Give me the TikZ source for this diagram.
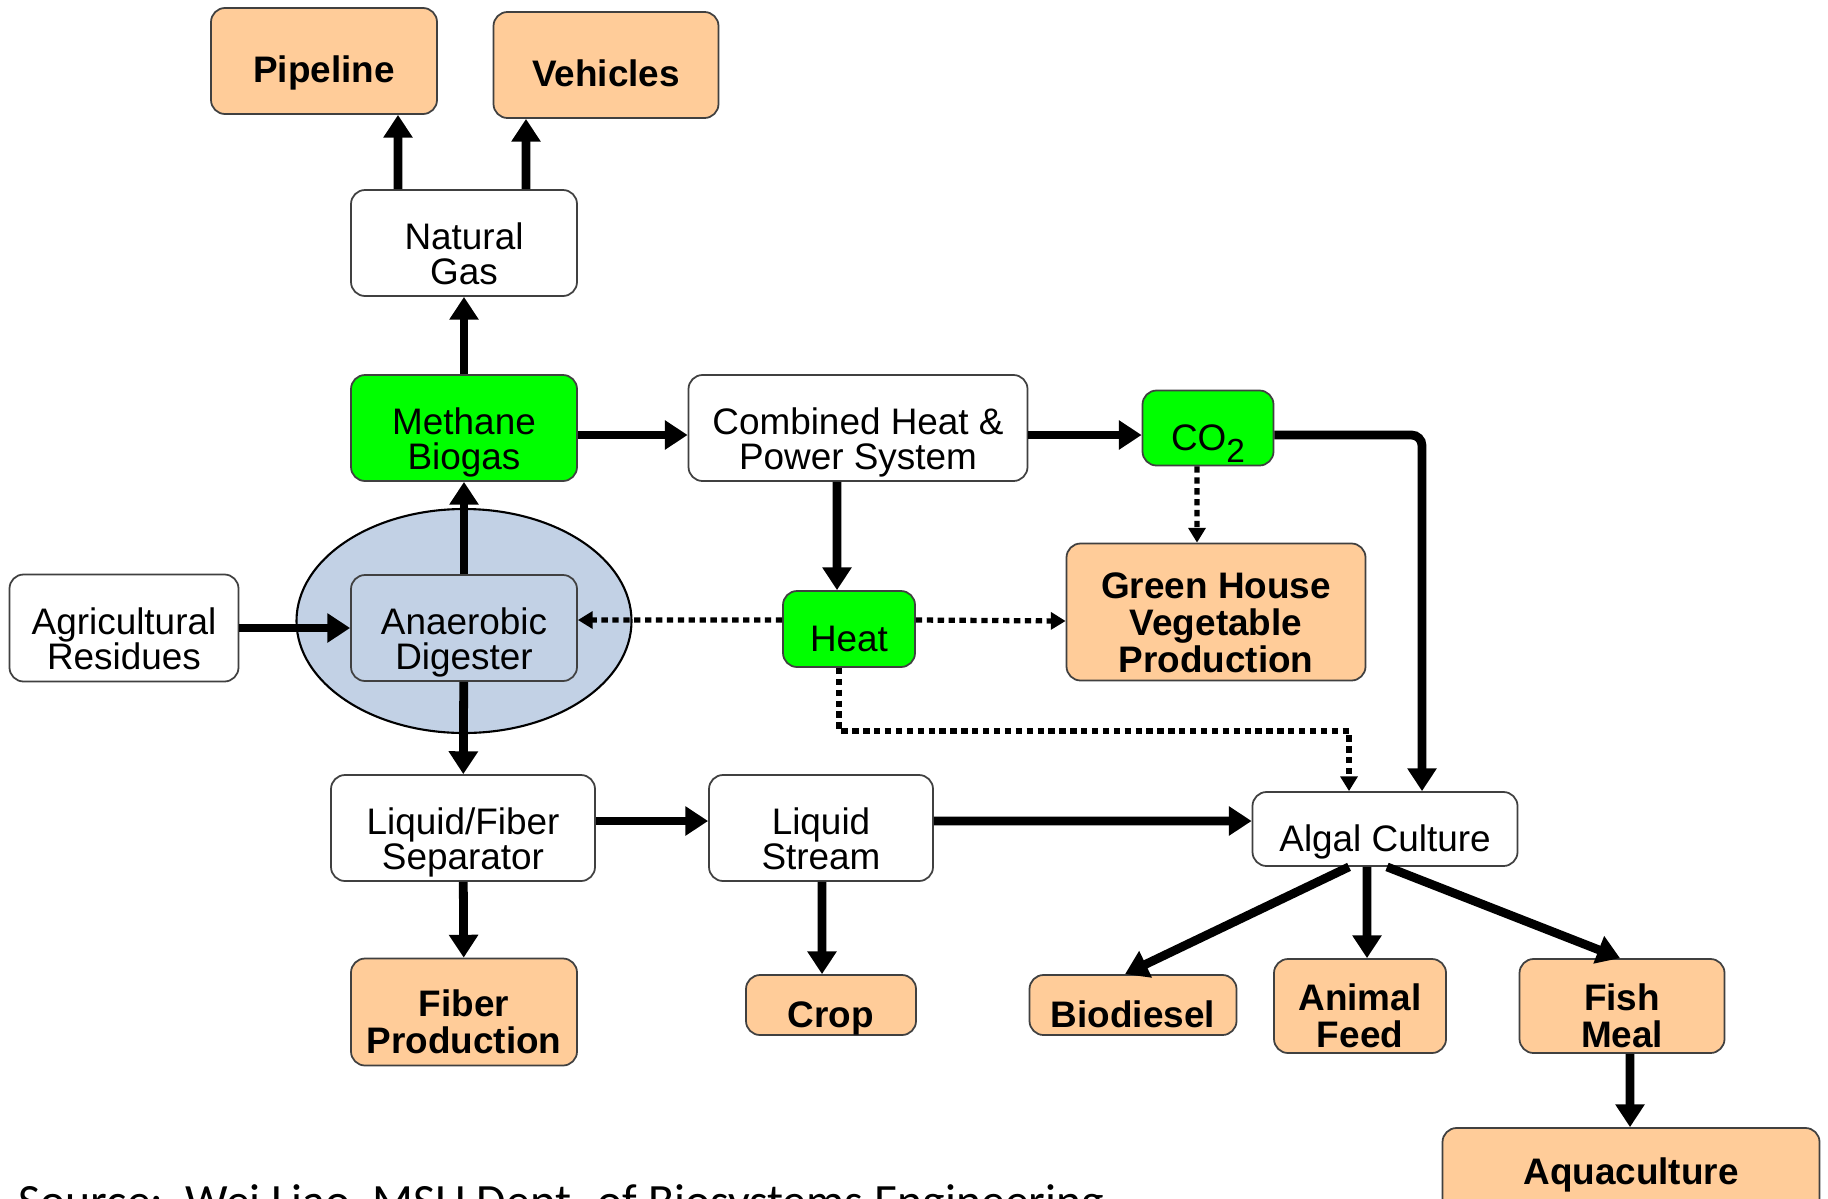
\documentclass[tikz,border=0pt]{standalone}
\usepackage{fontspec}
\setmainfont{Liberation Sans}
\newfontfamily\srcfont{Carlito}
\usetikzlibrary{arrows.meta,shapes.geometric}

\definecolor{peach}{RGB}{255,204,153}
\definecolor{gasgreen}{RGB}{0,255,0}
\definecolor{tankblue}{RGB}{194,209,229}

\tikzset{
  box/.style={draw=black!75,line width=0.5pt,rounded corners=4pt,align=center,
    inner sep=0pt,text height=13pt,text depth=0pt,font=\fontsize{10.5}{10}\selectfont},
  two/.style={text height=23.5pt},
  three/.style={text height=34.5pt},
  prod/.style={box,fill=peach,font=\fontsize{10.5}{10.5}\selectfont\bfseries},
  gas/.style={box,fill=gasgreen},
  flow/.style={line width=2.5pt,-{Triangle[length=6.5pt,width=8pt]}},
  heatflow/.style={line width=1.5pt,dash pattern=on 1.8pt off 1.3pt,
    -{Triangle[length=4.2pt,width=4.8pt]}}
}

\begin{document}
\begin{tikzpicture}
\clip (0,0) rectangle (18.28,-11.98);
\fill[white] (0,0) rectangle (18.28,-11.98);

% digester tank
\draw (4.64,-6.21) node[ellipse,draw,line width=0.6pt,fill=tankblue,minimum width=3.35cm,minimum height=2.24cm](tank) {};

% process boxes
\draw (4.64,-2.43) node[box,two,minimum width=2.26cm,minimum height=1.06cm](ng) {Natural\\Gas};
\draw (4.64,-4.28) node[gas,two,minimum width=2.26cm,minimum height=1.06cm](meth) {Methane\\Biogas};
\draw (8.58,-4.28) node[box,two,minimum width=3.39cm,minimum height=1.06cm](chp) {Combined Heat \&\\Power System};
\draw (12.08,-4.28) node[gas,minimum width=1.31cm,minimum height=0.75cm](co2) {CO\raisebox{-3.4pt}{\fontsize{9.5}{9.5}\selectfont 2}};
\draw (8.49,-6.29) node[gas,minimum width=1.32cm,minimum height=0.76cm](heat) {Heat};
\draw (4.64,-6.28) node[box,two,fill=tankblue,minimum width=2.26cm,minimum height=1.06cm](ad) {Anaerobic\\Digester};
\draw (1.24,-6.28) node[box,two,minimum width=2.29cm,minimum height=1.07cm](agr) {Agricultural\\Residues};
\draw (4.63,-8.28) node[box,two,minimum width=2.64cm,minimum height=1.06cm](lfs) {Liquid/Fiber\\Separator};
\draw (8.21,-8.28) node[box,two,minimum width=2.24cm,minimum height=1.06cm](ls) {Liquid\\Stream};
\draw (13.85,-8.29) node[box,minimum width=2.65cm,minimum height=0.74cm](alg) {Algal Culture};

% products
\draw (3.24,-0.61) node[prod,minimum width=2.26cm,minimum height=1.06cm,text height=12pt](pipe) {Pipeline};
\draw (6.06,-0.65) node[prod,minimum width=2.25cm,minimum height=1.06cm,text height=12pt](veh) {Vehicles};
\draw (12.16,-6.12) node[prod,three,minimum width=2.99cm,minimum height=1.37cm](gh) {Green House\\Vegetable\\Production};
\draw (4.64,-10.12) node[prod,two,minimum width=2.26cm,minimum height=1.07cm](fib) {Fiber\\Production};
\draw (8.31,-10.05) node[prod,minimum width=1.70cm,minimum height=0.60cm](crop) {Crop};
\draw (11.33,-10.05) node[prod,minimum width=2.07cm,minimum height=0.60cm](bio) {Biodiesel};
\draw (13.60,-10.06) node[prod,two,minimum width=1.72cm,minimum height=0.94cm](feed) {Animal\\Feed};
\draw (16.22,-10.06) node[prod,two,minimum width=2.05cm,minimum height=0.94cm](fish) {Fish\\Meal};
\draw (16.31,-11.72) node[prod,minimum width=3.77cm,minimum height=0.88cm,text height=7.3pt](aqua) {Aquaculture};

% main flows
\draw[flow] ([xshift=-6.6mm]ng.north) -- ([xshift=7.4mm]pipe.south);
\draw[flow] ([xshift=6.2mm]ng.north) -- ([xshift=-8mm]veh.south);
\draw[flow] (meth) -- (ng);
\draw[flow] (ad) -- (meth);
\draw[flow] (agr) -- (ad);
\draw[flow] (ad) -- (lfs);
\draw[flow] ([yshift=-0.7mm]meth.east) -- ([yshift=-0.7mm]chp.west);
\draw[flow] ([yshift=-0.7mm]chp.east) -- ([yshift=-0.7mm]co2.west);
\draw[flow,rounded corners=3pt] ([yshift=-0.7mm]co2.east) -| ([xshift=3.7mm]alg.north);
\draw[flow] ([xshift=-2.1mm]chp.south) -- ([xshift=-1.2mm]heat.north);
\draw[flow] ([yshift=0.7mm]lfs.east) -- ([yshift=0.7mm]ls.west);
\draw[flow] (lfs) -- (fib);
\draw[flow] ([yshift=0.7mm]ls.east) -- ([yshift=0.8mm]alg.west);
\draw[flow] ([xshift=0.1mm]ls.south) -- ([xshift=-0.9mm]crop.north);
\draw[flow] ([xshift=-3.6mm]alg.south) -- ([xshift=-0.8mm]bio.north);
\draw[flow] ([xshift=-1.8mm]alg.south) -- ([xshift=0.7mm]feed.north);
\draw[flow] ([xshift=0.2mm]alg.south) -- ([xshift=-0.2mm]fish.north);
\draw[flow] ([xshift=0.8mm]fish.south) -- ([xshift=-0.1mm]aqua.north);

% heat and gas recovery
\draw[heatflow] ([xshift=-1.1mm]co2.south) -- ([xshift=-1.9mm]gh.north);
\draw[heatflow] ([yshift=0.9mm]heat.west) -- ([yshift=0.8mm]ad.east);
\draw[heatflow] ([yshift=0.9mm]heat.east) -- ([yshift=0.8mm]gh.west |- heat.east);
\draw[heatflow] ([xshift=-1mm]heat.south) -- ++(0,-0.63) -| ([xshift=-3.6mm]alg.north);

\node[anchor=base west,inner sep=0pt,font=\srcfont\fontsize{13.6}{15}\selectfont] (src) at (0.18,-12.17) {Source:\ \ Wei Liao, MSU Dept. of Biosystems Engineering};
\end{tikzpicture}
\end{document}
